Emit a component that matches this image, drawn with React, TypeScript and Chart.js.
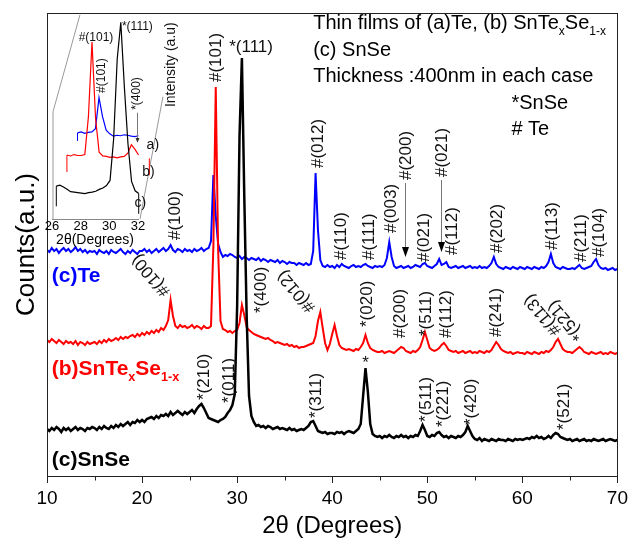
import React, { useEffect, useRef } from 'react';
import { Chart, registerables } from 'chart.js';

Chart.register(...registerables);

const FONT = '"Liberation Sans", Arial, Helvetica, sans-serif';

// 2θ sampling of the scans (degrees)
const TWO_THETA_START = 10;
const TWO_THETA_STEP = 0.25;

// (c) SnSe film, counts (a.u.), 10° → 70°
const snSeCounts = [
  47, 45, 48, 46, 49, 47, 44, 48, 46, 48, 45, 47, 49, 46, 48, 47, 45, 48, 47, 49,
  48, 46, 49, 47, 50, 48, 47, 50, 48, 51, 49, 52, 50, 52, 54, 51, 54, 53, 56, 54,
  56, 54, 57, 58, 59, 57, 60, 58, 61, 60, 62, 60, 64, 61, 63, 65, 63, 61, 64, 62,
  64, 66, 63, 67, 70, 72, 68, 63, 58, 57, 56, 55, 54, 56, 57, 59, 63, 66, 71, 82,
  170, 340, 418, 280, 160, 80, 60, 54, 50, 51, 49, 50, 48, 50, 49, 47, 48, 49, 47, 48,
  47, 46, 48, 46, 47, 45, 46, 47, 46, 48, 50, 54, 55, 50, 45, 44, 43, 44, 42, 43,
  43, 42, 44, 43, 44, 42, 44, 45, 44, 43, 45, 47, 52, 80, 108, 84, 52, 42, 40, 39,
  40, 38, 40, 39, 41, 39, 38, 40, 39, 41, 39, 40, 38, 40, 39, 41, 40, 45, 51, 46,
  40, 39, 41, 40, 43, 44, 41, 39, 40, 38, 40, 39, 38, 40, 39, 41, 44, 50, 45, 40,
  37, 36, 38, 35, 37, 36, 35, 37, 36, 35, 37, 36, 36, 35, 37, 36, 35, 37, 36, 37,
  36, 37, 38, 37, 39, 38, 40, 38, 39, 37, 38, 40, 38, 41, 43, 42, 39, 38, 37, 36,
  37, 35, 36, 37, 35, 36, 37, 35, 36, 35, 37, 36, 35, 36, 37, 35, 36, 37, 36, 35,
  36,
];

// (b) SnTe(x)Se(1-x) film, counts (a.u.)
const snTeSeCounts = [
  136, 134, 137, 135, 133, 136, 134, 132, 135, 133, 134, 132, 135, 131, 134, 133, 131, 134, 132, 133,
  134, 132, 135, 133, 136, 134, 137, 135, 136, 138, 136, 139, 137, 139, 138, 140, 141, 139, 142, 140,
  143, 141, 144, 142, 145, 143, 146, 144, 148, 146, 150, 156, 176, 160, 150, 148, 151, 149, 150, 148,
  149, 151, 148, 150, 149, 147, 150, 148, 148, 150, 230, 389, 226, 155, 147, 146, 144, 145, 143, 145,
  146, 153, 171, 161, 149, 146, 144, 142, 141, 140, 139, 138, 137, 138, 136, 135, 133, 134, 133, 132,
  131, 132, 130, 131, 129, 130, 128, 129, 129, 130, 131, 132, 133, 140, 155, 164, 148, 133, 126, 132,
  142, 151, 140, 131, 128, 127, 126, 127, 126, 125, 127, 126, 129, 133, 141, 133, 128, 126, 125, 124,
  124, 125, 123, 124, 125, 124, 123, 125, 127, 129, 128, 125, 124, 123, 125, 124, 126, 129, 136, 144,
  136, 128, 126, 125, 126, 128, 131, 133, 130, 126, 125, 124, 125, 123, 124, 125, 123, 124, 125, 123,
  124, 123, 125, 124, 123, 125, 124, 126, 130, 134, 131, 127, 125, 124, 123, 124, 122, 123, 124, 123,
  123, 122, 124, 123, 122, 124, 123, 122, 124, 123, 125, 124, 126, 129, 134, 137, 132, 127, 125, 124,
  124, 123, 125, 127, 129, 127, 124, 123, 122, 124, 123, 122, 123, 124, 122, 123, 122, 124, 123, 122,
  123,
];

// (a) Te film, counts (a.u.)
const teCounts = [
  226, 224, 228, 225, 227, 223, 226, 228, 225, 227, 224, 226, 229, 225, 227, 224, 226, 223, 225, 224,
  225, 222, 226, 224, 223, 225, 222, 226, 224, 223, 225, 227, 224, 222, 225, 223, 226, 224, 222, 225,
  225, 227, 224, 226, 223, 225, 227, 224, 226, 228, 225, 227, 231, 226, 224, 227, 226, 224, 227, 225,
  226, 224, 227, 225, 226, 228, 225, 227, 228, 235, 301, 260, 232, 224, 219, 221, 220, 222, 221, 219,
  218, 220, 217, 219, 218, 216, 218, 217, 216, 218, 215, 217, 216, 214, 216, 215, 214, 216, 213, 215,
  214, 212, 214, 213, 213, 211, 213, 212, 211, 213, 211, 212, 225, 303, 246, 216, 210, 209, 211, 209,
  210, 208, 211, 209, 212, 210, 209, 208, 210, 211, 209, 210, 209, 211, 212, 210, 209, 208, 210, 209,
  210, 209, 211, 218, 234, 219, 210, 208, 209, 210, 208, 209, 210, 208, 209, 211, 210, 209, 212, 213,
  210, 209, 208, 210, 212, 217, 211, 212, 214, 209, 208, 209, 210, 208, 209, 210, 208, 209, 210, 208,
  209, 208, 210, 208, 209, 208, 210, 213, 219, 212, 209, 208, 207, 209, 208, 207, 209, 208, 207, 209,
  208, 207, 209, 208, 207, 209, 208, 207, 209, 208, 210, 214, 222, 213, 209, 208, 207, 209, 208, 207,
  207, 208, 207, 209, 211, 208, 207, 208, 209, 210, 214, 217, 211, 208, 207, 208, 206, 207, 208, 206,
  207,
];

const xMajorTicks = [10, 20, 30, 40, 50, 60, 70];
const xMinorTicks = [15, 25, 35, 45, 55, 65];
const insetTicks = [26, 28, 30, 32];

const twoTheta = snSeCounts.map((_, i) => TWO_THETA_START + i * TWO_THETA_STEP);

type Note = { text: string; x: number; y: number; angle: number; align?: CanvasTextAlign };
type Part = [string, boolean];

// Reflection labels on the main panel (x in degrees, y in counts)
const peakNotes: Note[] = [
  { text: '#(101)', x: 27.79, y: 394, angle: -90 },
  { text: '*(111)', x: 29.16, y: 429, angle: 0 },
  // Te
  { text: '#(100)', x: 23.5, y: 236, angle: -90 },
  { text: '#(012)', x: 38.5, y: 308, angle: -90 },
  { text: '#(110)', x: 41.0, y: 216, angle: -90 },
  { text: '#(111)', x: 43.94, y: 216, angle: -90 },
  { text: '#(003)', x: 46.25, y: 243, angle: -90 },
  { text: '#(200)', x: 47.82, y: 296, angle: -90 },
  { text: '#(021)', x: 51.59, y: 299, angle: -90 },
  { text: '#(021)', x: 49.7, y: 214, angle: -90 },
  { text: '#(112)', x: 52.64, y: 221, angle: -90 },
  { text: '#(202)', x: 57.36, y: 223, angle: -90 },
  { text: '#(113)', x: 63.2, y: 226, angle: -90 },
  { text: '#(211)', x: 66.17, y: 214, angle: -90 },
  { text: '#(104)', x: 68.06, y: 219, angle: -90 },
  // SnTe(x)Se(1-x)
  { text: '#(100)', x: 22.6, y: 182, angle: -130 },
  { text: '*(400)', x: 32.5, y: 163, angle: -90 },
  { text: '#(012)', x: 37.9, y: 166, angle: -130 },
  { text: '*(020)', x: 43.72, y: 149, angle: -90 },
  { text: '#(200)', x: 47.2, y: 138, angle: -90 },
  { text: '*(511)', x: 49.92, y: 140, angle: -90 },
  { text: '#(112)', x: 52.0, y: 138, angle: -90 },
  { text: '#(241)', x: 57.26, y: 139, angle: -90 },
  { text: '#(113)', x: 63.76, y: 143, angle: -130 },
  { text: '*(521)', x: 66.17, y: 138, angle: -130 },
  // SnSe
  { text: '*(210)', x: 26.54, y: 76, angle: -90 },
  { text: '*(011)', x: 29.16, y: 73, angle: -90 },
  { text: '*(311)', x: 38.28, y: 58, angle: -90 },
  { text: '*', x: 43.52, y: 113, angle: 0, align: 'center' },
  { text: '*(511)', x: 49.92, y: 54, angle: -90 },
  { text: '*(221)', x: 51.7, y: 49, angle: -90 },
  { text: '*(420)', x: 54.64, y: 51, angle: -90 },
  { text: '*(521)', x: 64.39, y: 46, angle: -90 },
];

// Pointer arrows (x, from, to)
const pointers = [
  { x: 47.61, from: 293, to: 219 },
  { x: 51.49, from: 296, to: 224 },
];

const legendLines: Part[][] = [
  [['Thin films of (a)Te, (b) SnTe', false], ['x', true], ['Se', false], ['1-x', true]],
  [['(c) SnSe', false]],
  [['Thickness :400nm in each case', false]],
  [['*SnSe', false]],
  [['# Te', false]],
];
const legendAnchors = [
  [38.0, 447],
  [38.0, 420.5],
  [38.0, 394],
  [58.85, 367.5],
  [58.85, 341],
];

const seriesLabels: { parts: Part[]; color: string; x: number; y: number }[] = [
  { parts: [['(c)Te', false]], color: '#0000ff', x: 10.5, y: 194 },
  { parts: [['(b)SnTe', false], ['x', true], ['Se', false], ['1-x', true]], color: '#ff0000', x: 10.5, y: 101 },
  { parts: [['(c)SnSe', false]], color: '#000000', x: 10.5, y: 10 },
];

// Inset: waterfall view of 26°–31.75°, each scan shifted along the depth axis
const INSET_FROM = 26;
const INSET_TO = 31.75;
const insetSeries = [
  { data: teCounts, color: '#0000ff', dx: 1.78, dy: -43, drop: 17, endDrop: false },
  { data: snTeSeCounts, color: '#ff0000', dx: 1.04, dy: -13, drop: 36, endDrop: true },
  { data: snSeCounts, color: '#000000', dx: 0.3, dy: 0, drop: 43, endDrop: true },
];
const insetFrame: [number, number][][] = [
  [[26.07, 0], [26.07, 228], [27.95, 434]],
  [[33.74, 260], [32.14, 0]],
];
const insetNotes: Note[] = [
  { text: '#(101)', x: 29.07, y: 385, angle: 0, align: 'center' },
  { text: '#(101)', x: 29.49, y: 268, angle: -90 },
  { text: '*(111)', x: 30.88, y: 408, angle: 0 },
  { text: '*(400)', x: 31.93, y: 232, angle: -90 },
];
const insetTags: Note[] = [
  { text: 'a)', x: 32.6, y: 157, angle: 0 },
  { text: 'b)', x: 32.3, y: 100, angle: 0 },
  { text: 'c)', x: 31.75, y: 34, angle: 0 },
];

function drawNote(ctx: CanvasRenderingContext2D, px: number, py: number, n: Note) {
  ctx.save();
  ctx.translate(px, py);
  ctx.rotate((n.angle * Math.PI) / 180);
  ctx.textAlign = n.align ?? 'left';
  ctx.textBaseline = 'middle';
  ctx.fillText(n.text, 0, 0);
  ctx.restore();
}

function drawRich(ctx: CanvasRenderingContext2D, x: number, y: number, parts: Part[], size: number, weight: string) {
  let cx = x;
  ctx.textAlign = 'left';
  ctx.textBaseline = 'alphabetic';
  for (const [t, sub] of parts) {
    const s = sub ? size * 0.6 : size;
    ctx.font = `${weight} ${s}px ${FONT}`;
    ctx.fillText(t, cx, sub ? y + size * 0.3 : y);
    cx += ctx.measureText(t).width;
  }
}

const mainDecor = {
  id: 'mainDecor',
  afterDatasetsDraw(chart: any) {
    const { ctx, chartArea: a, scales } = chart;
    const xs = scales.x;
    const ys = scales.y;
    ctx.save();
    ctx.strokeStyle = '#222';
    ctx.lineWidth = 1;
    const l = Math.round(a.left) + 0.5;
    const t = Math.round(a.top) + 0.5;
    const r = Math.round(a.right) + 0.5;
    const b = Math.round(a.bottom) + 0.5;
    ctx.strokeRect(l, t, r - l, b - t);
    for (const v of xMinorTicks) {
      const px = Math.round(xs.getPixelForValue(v)) + 0.5;
      ctx.beginPath();
      ctx.moveTo(px, b);
      ctx.lineTo(px, b + 4);
      ctx.stroke();
    }

    ctx.fillStyle = '#111';
    ctx.font = `17px ${FONT}`;
    for (const n of peakNotes) {
      drawNote(ctx, xs.getPixelForValue(n.x), ys.getPixelForValue(n.y), n);
    }

    for (const p of pointers) {
      const px = Math.round(xs.getPixelForValue(p.x)) + 0.5;
      const y1 = ys.getPixelForValue(p.from);
      const y2 = ys.getPixelForValue(p.to);
      ctx.strokeStyle = '#777';
      ctx.beginPath();
      ctx.moveTo(px, y1);
      ctx.lineTo(px, y2 - 8);
      ctx.stroke();
      ctx.fillStyle = '#000';
      ctx.beginPath();
      ctx.moveTo(px - 3.5, y2 - 10);
      ctx.lineTo(px + 3.5, y2 - 10);
      ctx.lineTo(px, y2);
      ctx.closePath();
      ctx.fill();
    }

    ctx.fillStyle = '#000';
    legendLines.forEach((parts, i) => {
      const [x, y] = legendAnchors[i];
      drawRich(ctx, xs.getPixelForValue(x), ys.getPixelForValue(y), parts, 20, 'normal');
    });

    for (const s of seriesLabels) {
      ctx.fillStyle = s.color;
      drawRich(ctx, xs.getPixelForValue(s.x), ys.getPixelForValue(s.y), s.parts, 21, 'bold');
    }
    ctx.restore();
  },
};

const insetDecor = {
  id: 'insetDecor',
  afterDatasetsDraw(chart: any) {
    const { ctx, scales } = chart;
    const xs = scales.x;
    const ys = scales.y;
    ctx.save();
    ctx.strokeStyle = '#999';
    ctx.lineWidth = 1;
    for (const path of insetFrame) {
      ctx.beginPath();
      path.forEach(([x, y], i) => {
        const px = xs.getPixelForValue(x);
        const py = ys.getPixelForValue(y);
        if (i === 0) ctx.moveTo(px, py);
        else ctx.lineTo(px, py);
      });
      ctx.stroke();
    }

    // drop lines at the ends of each scan
    chart.data.datasets.forEach((ds: any, i: number) => {
      const s = insetSeries[i];
      ctx.strokeStyle = ds.borderColor;
      const ends = s.endDrop ? [ds.data[0], ds.data[ds.data.length - 1]] : [ds.data[0]];
      for (const pt of ends) {
        const px = xs.getPixelForValue(pt.x);
        ctx.beginPath();
        ctx.moveTo(px, ys.getPixelForValue(pt.y));
        ctx.lineTo(px, ys.getPixelForValue(pt.y - s.drop));
        ctx.stroke();
      }
    });

    ctx.fillStyle = '#111';
    ctx.font = `12px ${FONT}`;
    for (const n of insetNotes) drawNote(ctx, xs.getPixelForValue(n.x), ys.getPixelForValue(n.y), n);

    // pointer under *(400)
    const ax = Math.round(xs.getPixelForValue(31.93)) + 0.5;
    ctx.strokeStyle = '#777';
    ctx.beginPath();
    ctx.moveTo(ax, ys.getPixelForValue(226));
    ctx.lineTo(ax, ys.getPixelForValue(166));
    ctx.stroke();
    ctx.fillStyle = '#333';
    ctx.beginPath();
    ctx.moveTo(ax - 2, ys.getPixelForValue(172));
    ctx.lineTo(ax + 2, ys.getPixelForValue(172));
    ctx.lineTo(ax, ys.getPixelForValue(162));
    ctx.closePath();
    ctx.fill();

    ctx.fillStyle = '#111';
    ctx.font = `14px ${FONT}`;
    for (const n of insetTags) drawNote(ctx, xs.getPixelForValue(n.x), ys.getPixelForValue(n.y), n);
    drawNote(ctx, xs.getPixelForValue(34.3), ys.getPixelForValue(328), {
      text: 'Intensity (a.u)',
      x: 0,
      y: 0,
      angle: -90,
      align: 'center',
    });
    ctx.restore();
  },
};

function mainChart(canvas: HTMLCanvasElement) {
  const series = [
    { label: '(c)SnSe', data: snSeCounts, color: '#000000', width: 2.5, order: 0 },
    { label: '(b)SnTexSe1-x', data: snTeSeCounts, color: '#ff0000', width: 2, order: 1 },
    { label: '(a)Te', data: teCounts, color: '#0000ff', width: 2, order: 2 },
  ];
  return new Chart(canvas, {
    type: 'line',
    data: {
      datasets: series.map((s) => ({
        label: s.label,
        data: twoTheta.map((x, i) => ({ x, y: s.data[i] })),
        borderColor: s.color,
        borderWidth: s.width,
        pointRadius: 0,
        tension: 0,
        fill: false,
        order: s.order,
      })),
    },
    options: {
      responsive: false,
      animation: false,
      devicePixelRatio: 1,
      layout: { padding: { top: 13, right: 12, left: 0, bottom: 0 } },
      plugins: { legend: { display: false }, tooltip: { enabled: false }, title: { display: false } },
      scales: {
        x: {
          type: 'linear',
          min: 10,
          max: 70,
          afterBuildTicks: (s: any) => {
            s.ticks = xMajorTicks.map((value) => ({ value }));
          },
          afterFit: (s: any) => {
            s.height = 68;
          },
          ticks: { font: { family: FONT, size: 19 }, color: '#000', padding: 4, maxRotation: 0, autoSkip: false },
          grid: { display: true, drawOnChartArea: false, drawTicks: true, tickLength: 7, color: '#222' },
          border: { display: false },
          title: {
            display: true,
            text: '2θ (Degrees)',
            font: { family: FONT, size: 24 },
            color: '#000',
            padding: { top: 0, bottom: 3 },
          },
        },
        y: {
          type: 'linear',
          min: 0,
          max: 463,
          afterFit: (s: any) => {
            s.width = 47;
          },
          ticks: { display: false },
          grid: { display: false },
          border: { display: false },
          title: {
            display: true,
            text: 'Counts(a.u.)',
            font: { family: FONT, size: 26 },
            color: '#000',
            padding: { top: 11, bottom: 0 },
          },
        },
      },
    },
    plugins: [mainDecor],
  } as any);
}

function insetChart(canvas: HTMLCanvasElement) {
  return new Chart(canvas, {
    type: 'line',
    data: {
      datasets: insetSeries.map((s, k) => ({
        data: twoTheta
          .map((x, i) => ({ x, y: s.data[i] }))
          .filter((p) => p.x >= INSET_FROM && p.x <= INSET_TO)
          .map((p) => ({ x: p.x + s.dx, y: p.y + s.dy })),
        borderColor: s.color,
        borderWidth: 1.2,
        pointRadius: 0,
        tension: 0,
        fill: false,
        clip: false,
        order: 2 - k,
      })),
    },
    options: {
      responsive: false,
      animation: false,
      devicePixelRatio: 1,
      layout: { padding: { left: 52, right: 494, top: 12, bottom: 295 } },
      plugins: { legend: { display: false }, tooltip: { enabled: false } },
      scales: {
        x: {
          type: 'linear',
          min: 26,
          max: 32,
          afterBuildTicks: (s: any) => {
            s.ticks = insetTicks.map((value) => ({ value }));
          },
          afterFit: (s: any) => {
            s.height = 30;
          },
          ticks: { font: { family: FONT, size: 13, lineHeight: 1 }, color: '#000', padding: 1, maxRotation: 0, autoSkip: false },
          grid: { display: true, drawOnChartArea: false, drawTicks: false },
          border: { display: true, color: '#888' },
          title: {
            display: true,
            text: '2θ(Degrees)',
            font: { family: FONT, size: 14, lineHeight: 1 },
            color: '#000',
            padding: { top: 0, bottom: 2 },
          },
        },
        y: { display: false, min: 0, max: 440 },
      },
    },
    plugins: [insetDecor],
  } as any);
}

export default function App() {
  const mainRef = useRef<HTMLCanvasElement>(null);
  const insetRef = useRef<HTMLCanvasElement>(null);

  useEffect(() => {
    const main = mainChart(mainRef.current!);
    const inset = insetChart(insetRef.current!);
    return () => {
      main.destroy();
      inset.destroy();
    };
  }, []);

  return (
    <div style={{ position: 'fixed', left: 0, top: 0, width: 632, height: 544, background: '#fff' }}>
      <canvas ref={mainRef} width={632} height={544} style={{ position: 'absolute', left: 0, top: 0 }} />
      <canvas
        ref={insetRef}
        width={632}
        height={544}
        style={{ position: 'absolute', left: 0, top: 0, pointerEvents: 'none' }}
      />
    </div>
  );
}
